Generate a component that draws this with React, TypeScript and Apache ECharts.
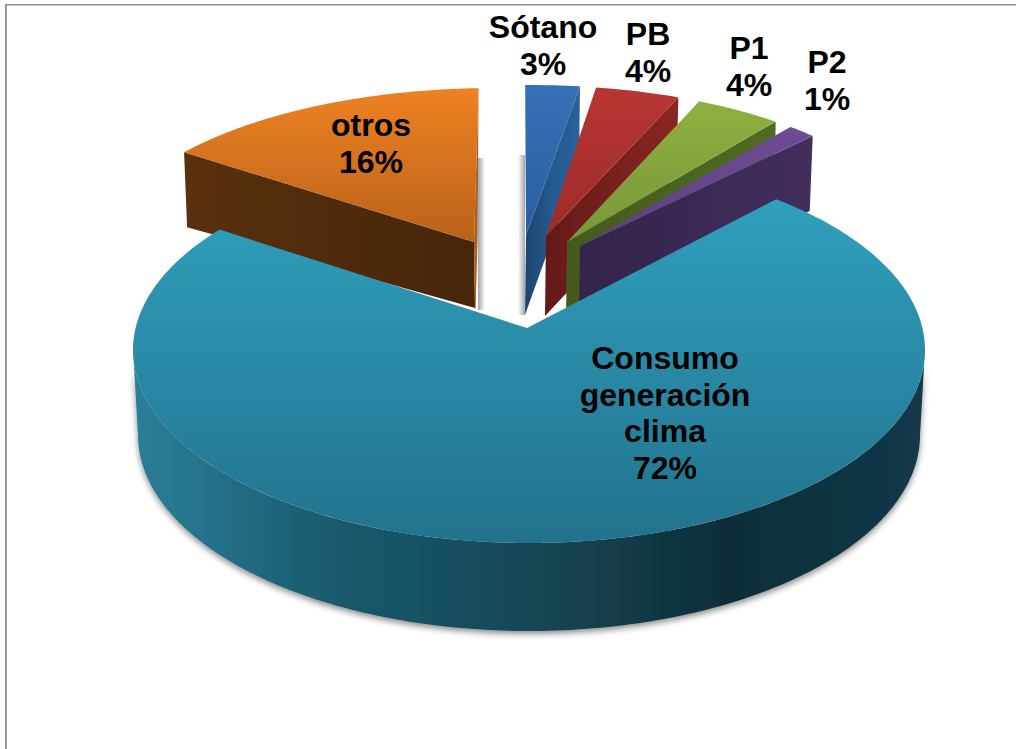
import React, { useEffect, useRef } from "react";
import * as echarts from "echarts";

// Clockwise from the "otros" slice, which is also the painter's order.
const categories = ["otros", "Sótano", "PB", "P1", "P2", "Consumo\ngeneración\nclima"];
const shareValues = [16.1, 2.5, 3.9, 4.1, 1.4, 72];

const topColors = [
  ["#ee8223", "#b9611a"],
  ["#3670b8", "#2a5f9f"],
  ["#b83533", "#9c2c2a"],
  ["#8fb040", "#779838"],
  ["#6f4c96", "#5c3f80"],
  ["#2fa0bd", "#22728d"],
];
const wallColors = [
  ["#5a310e", "#462509"],
  ["#1a4670", "#275a90", "#2a6199"],
  ["#641a18", "#8a2624"],
  ["#445a1c", "#4f6a22"],
  ["#32244a", "#422f5c"],
  ["#2c7f9a", "#1a5a6e", "#164756", "#0e2e38", "#12384a"],
];

// Geometry of the drawing: perspective ellipses, exploded apexes, wall depths.
const geometry = [
  { cx: 494, cy: 258, rx: 396, ry: 170, startDeg: 141.5, perPct: 3.06, apex: [474, 242], wall: "start", outerDepth: 75, innerDepth: 66, wallDx: 3, strip: true, shadow: [478, 158, 7, 152] },
  { cx: 530, cy: 255, rx: 396, ry: 170, startDeg: 90.7, perPct: 3.18, apex: [526, 235], wall: "end", outerDepth: 78, innerDepth: 80, wallDx: -1, shadow: [518, 155, 7, 160] },
  { cx: 530, cy: 255, rx: 396, ry: 170, startDeg: 80.4, perPct: 3.18, apex: [546, 236], wall: "end", outerDepth: 78, innerDepth: 80, wallDx: -2 },
  { cx: 530, cy: 255, rx: 396, ry: 170, startDeg: 64.7, perPct: 3.18, apex: [567, 242], wall: "end", outerDepth: 78, innerDepth: 78, wallDx: -1 },
  { cx: 530, cy: 255, rx: 396, ry: 170, startDeg: 48.9, perPct: 3.18, apex: [580, 246], wall: "end", outerDepth: 75, innerDepth: 72, wallDx: -3 },
  { cx: 529, cy: 350, rx: 396, ry: 193, startDeg: 51.4, perPct: 3.75, apex: [527, 328], wall: "arc", outerDepth: 85, innerDepth: 85, wallDx: 0, wallRx: 391, wallRy: 196 },
];
const labelCenters = [
  [371, 143.5],
  [543, 45.5],
  [648, 52.5],
  [749, 66.5],
  [827, 80.5],
  [665, 413],
];

const arcPoints = (g: any, from: number, to: number, rx = g.rx, cy = g.cy, ry = g.ry) => {
  const pts: number[][] = [];
  const steps = Math.max(6, Math.ceil(Math.abs(to - from)));
  for (let i = 0; i <= steps; i++) {
    const a = ((from + ((to - from) * i) / steps) * Math.PI) / 180;
    pts.push([g.cx + rx * Math.cos(a), cy - ry * Math.sin(a)]);
  }
  return pts;
};

const hGrad = (cols: string[]) =>
  new echarts.graphic.LinearGradient(
    0, 0, 1, 0,
    cols.map((color, i) => ({ offset: i / (cols.length - 1), color }))
  );
const vGrad = (cols: string[]) =>
  new echarts.graphic.LinearGradient(0, 0, 0, 1, [
    { offset: 0, color: cols[0] },
    { offset: 1, color: cols[1] },
  ]);

const renderSlice = (params: any, api: any) => {
  const i = params.dataIndex;
  const g = geometry[i] as any;
  const value = api.value(0) as number;
  const end = g.startDeg - value * g.perPct;
  const arc = arcPoints(g, g.startDeg, end);
  const children: any[] = [];

  if (g.shadow) {
    const [x, y, width, height] = g.shadow as number[];
    const fromLeft = x > g.apex[0];
    children.push({
      type: "rect",
      shape: { x, y, width, height },
      style: {
        fill: new echarts.graphic.LinearGradient(0, 0, 1, 0, [
          { offset: 0, color: fromLeft ? "rgba(90,90,90,0.55)" : "rgba(90,90,90,0)" },
          { offset: 1, color: fromLeft ? "rgba(90,90,90,0)" : "rgba(90,90,90,0.55)" },
        ]),
      },
    });
  }

  if (g.wall === "arc") {
    const upper = arcPoints(g, 180, 360);
    const lower = arcPoints(g, 360, 180, g.wallRx, g.cy + g.outerDepth, g.wallRy);
    children.push({
      type: "polygon",
      shape: { points: [...upper, ...lower] },
      style: {
        fill: hGrad(wallColors[i]),
        shadowBlur: 6,
        shadowColor: "rgba(0,0,0,0.45)",
        shadowOffsetY: 3,
      },
    });
  } else {
    const edge = g.wall === "start" ? arc[0] : arc[arc.length - 1];
    children.push({
      type: "polygon",
      shape: {
        points: [
          g.apex,
          edge,
          [edge[0] + g.wallDx, edge[1] + g.outerDepth],
          [g.apex[0] + (g.wall === "start" ? 1 : -1), g.apex[1] + g.innerDepth],
        ],
      },
      style: { fill: hGrad(wallColors[i]) },
    });
  }

  if (g.strip) {
    const tip = arc[arc.length - 1];
    children.push({
      type: "polygon",
      shape: {
        points: [tip, [tip[0] - 1, 240], [tip[0] - 3, 309], [g.apex[0] + 1, 309], g.apex],
      },
      style: { fill: "#a8601e" },
    });
  }

  children.push({
    type: "polygon",
    shape: { points: [g.apex, ...arc] },
    style: { fill: vGrad(topColors[i]) },
  });

  return { type: "group", children };
};

const renderLabel = (params: any, api: any) => {
  const i = params.dataIndex;
  const [x, y] = labelCenters[i];
  return {
    type: "text",
    x,
    y,
    style: {
      text: `${categories[i]}\n${Math.round(api.value(0) as number)}%`,
      fontFamily: '"Liberation Sans", Arial, sans-serif',
      fontWeight: "bold",
      fontSize: 32,
      lineHeight: 36.7,
      fill: "#000000",
      align: "center",
      verticalAlign: "middle",
    },
  };
};

export default function App() {
  const ref = useRef<HTMLDivElement>(null);
  useEffect(() => {
    const chart = echarts.init(ref.current!, undefined, { renderer: "svg" });
    const data = categories.map((name, i) => ({ name, value: [shareValues[i], i] }));
    chart.setOption({
      animation: false,
      backgroundColor: "#ffffff",
      graphic: [
        { type: "rect", z: 0, shape: { x: 5, y: 4, width: 1011, height: 1.5 }, style: { fill: "#8c8c8c" } },
        { type: "rect", z: 0, shape: { x: 5, y: 4, width: 1.8, height: 745 }, style: { fill: "#8c8c8c" } },
      ],
      series: [
        { type: "custom", coordinateSystem: "none", renderItem: renderSlice, data, silent: true, z: 2 },
        { type: "custom", coordinateSystem: "none", renderItem: renderLabel, data, silent: true, z: 3 },
      ],
    });
    return () => chart.dispose();
  }, []);
  return (
    <div
      ref={ref}
      style={{ position: "fixed", left: 0, top: 0, width: 1016, height: 749 }}
    />
  );
}
